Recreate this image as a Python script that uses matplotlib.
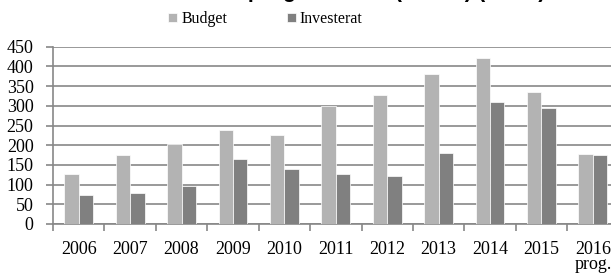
import numpy as np
import matplotlib
matplotlib.use("Agg")
import matplotlib.pyplot as plt

# Data
years = ["2006", "2007", "2008", "2009", "2010", "2011", "2012", "2013", "2014", "2015", "2016\nprog."]
budget = [127, 175, 202, 238, 225, 300, 327, 381, 422, 335, 178]
investerat = [74, 79, 96, 166, 140, 127, 121, 181, 310, 295, 175]
yticks = [0, 50, 100, 150, 200, 250, 300, 350, 400, 450]

title = "Investerat och prognos 2016 (MSEK) (netto)"

serif = "Liberation Serif"
grid_col = "#878787"

fig = plt.figure(figsize=(6.11, 2.75), dpi=100)
ax = fig.add_axes([53 / 611, 1 - 224 / 275, (618.6 - 53) / 611, (224 - 46.7) / 275])

x = np.arange(len(years))
w = 0.28
ax.bar(x - w / 2, budget, w, color="#b3b3b3", edgecolor="white", linewidth=0.5, label="Budget", zorder=3)
ax.bar(x + w / 2, investerat, w, color="#808080", edgecolor="white", linewidth=0.5, label="Investerat", zorder=3)

ax.set_xlim(-0.5, len(years) - 0.5)
ax.set_ylim(0, 450)
ax.set_yticks(yticks)
ax.set_yticklabels([str(v) for v in yticks], fontfamily=serif, fontsize=13)
ax.yaxis.grid(True, color=grid_col, linewidth=1.2, zorder=0)
ax.set_axisbelow(True)

# ticks at category boundaries, labels at category centres
ax.set_xticks(np.arange(len(years) + 1) - 0.5)
ax.set_xticklabels([])
ax.set_xticks(x, minor=True)
ax.set_xticklabels(years, minor=True, fontfamily=serif, fontsize=13, linespacing=0.9)
ax.tick_params(axis="x", which="minor", length=0, pad=12)
ax.tick_params(axis="x", which="major", length=5, width=1.2, color=grid_col)
ax.tick_params(axis="y", length=5, width=1.2, color=grid_col, pad=9)

for s in ["top", "right"]:
    ax.spines[s].set_visible(False)
for s in ["left", "bottom"]:
    ax.spines[s].set_color(grid_col)
    ax.spines[s].set_linewidth(1.2)

fig.legend(loc="center", bbox_to_anchor=(265.5 / 611, 1 - 19 / 275), ncol=2, frameon=False,
           prop={"family": serif, "size": 11.4}, handlelength=0.55, handleheight=0.55,
           handletextpad=0.25, columnspacing=3.8, borderpad=0)

# title sits mostly above the top edge, as in the reference
fig.text(320 / 611, 1 + 2.5 / 275, title, ha="center", va="baseline",
         fontfamily="Liberation Sans", fontweight="bold", fontsize=15.6)

fig.savefig("out.png", dpi=100)
